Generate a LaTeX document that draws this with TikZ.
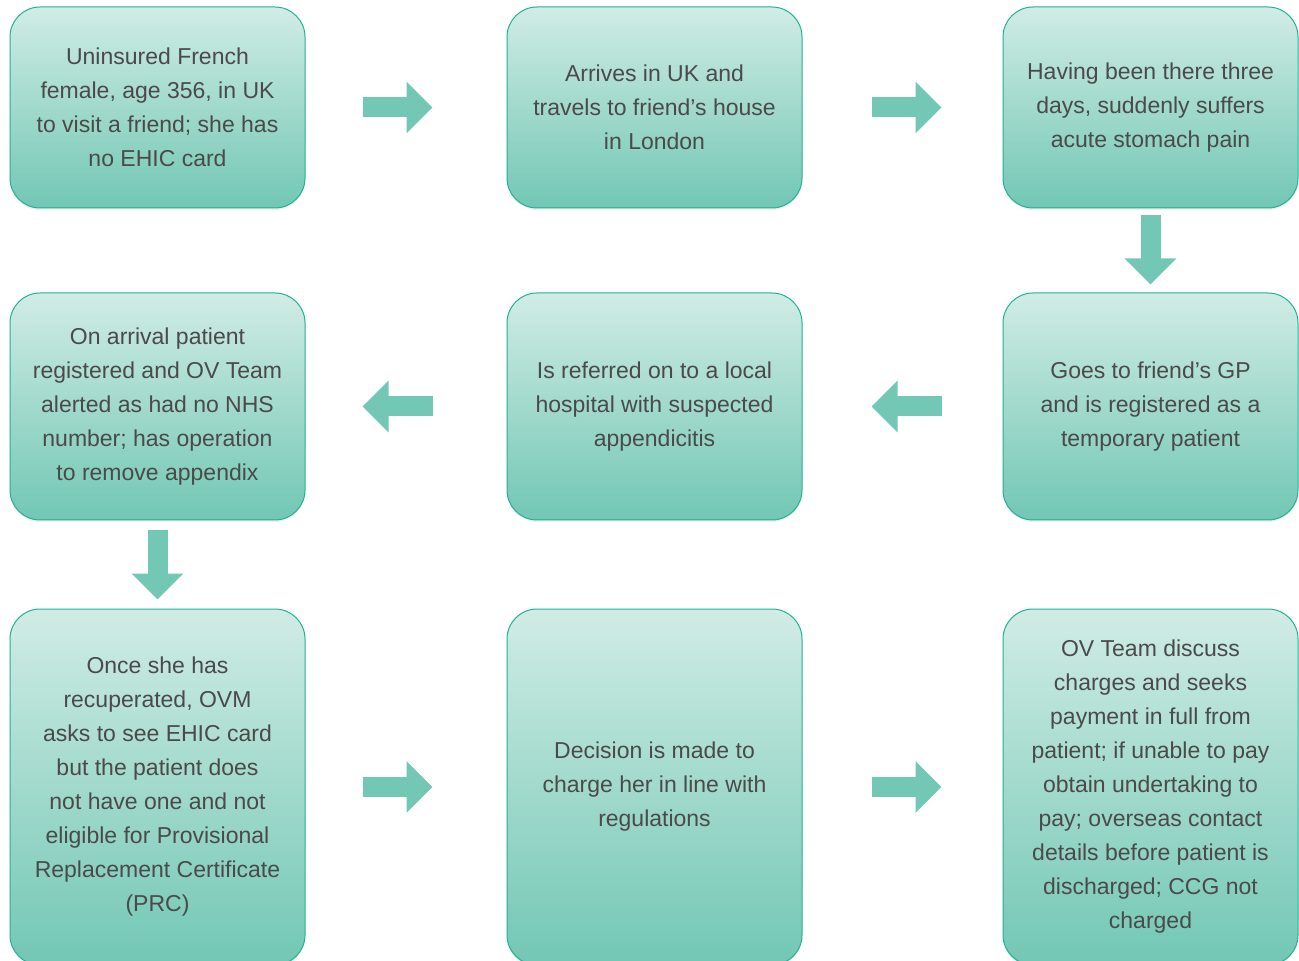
\documentclass[tikz,border=0pt]{standalone}
\usepackage{fontspec}
\setmainfont{Liberation Sans}
\usetikzlibrary{arrows.meta,shadows}
\definecolor{boxtop}{HTML}{D0ECE5}
\definecolor{boxbot}{HTML}{72C7B4}
\definecolor{boxline}{HTML}{1FB394}
\definecolor{flowcol}{HTML}{72C7B5}
\definecolor{txtcol}{HTML}{4A4A4A}
\tikzset{
  ovbox/.style={rectangle, rounded corners=15pt, draw=boxline, line width=0.5pt,
    top color=boxtop, bottom color=boxbot, minimum width=147.5pt, inner sep=0pt,
    align=center, text=txtcol, font=\fontsize{11.5}{17}\selectfont,
    drop shadow={opacity=0.12, shadow xshift=0pt, shadow yshift=-1pt}},
  flow/.style={draw=flowcol, line width=10pt, -{Triangle[width=25pt 0 0, length=13pt 0 0]}},
}
\begin{document}
\begin{tikzpicture}[x=0.5pt, y=-0.5pt]
\useasboundingbox (0,0) rectangle (1299,961);
% first row
\node[ovbox, minimum height=100.5pt] (s1) at (157.5,107.5) {Uninsured French\\female, age 356, in UK\\to visit a friend; she has\\no EHIC card};
\node[ovbox, minimum height=100.5pt] (s2) at (654.5,107.5) {Arrives in UK and\\travels to friend’s house\\in London};
\node[ovbox, minimum height=100.5pt] (s3) at (1150.5,107.5) {Having been there three\\days, suddenly suffers\\acute stomach pain};
% second row
\node[ovbox, minimum height=113.5pt] (s4) at (157.5,406.5) {On arrival patient\\registered and OV Team\\alerted as had no NHS\\number; has operation\\to remove appendix};
\node[ovbox, minimum height=113.5pt] (s5) at (654.5,406.5) {Is referred on to a local\\hospital with suspected\\appendicitis};
\node[ovbox, minimum height=113.5pt] (s6) at (1150.5,406.5) {Goes to friend’s GP\\and is registered as a\\temporary patient};
% third row
\node[ovbox, minimum height=178pt] (s7) at (157.5,787) {Once she has\\recuperated, OVM\\asks to see EHIC card\\but the patient does\\not have one and not\\eligible for Provisional\\Replacement Certificate\\(PRC)};
\node[ovbox, minimum height=178pt] (s8) at (654.5,787) {Decision is made to\\charge her in line with\\regulations};
\node[ovbox, minimum height=178pt] (s9) at (1150.5,787) {OV Team discuss\\charges and seeks\\payment in full from\\patient; if unable to pay\\obtain undertaking to\\pay; overseas contact\\details before patient is\\discharged; CCG not\\charged};
% arrows
\draw[flow, shorten <=28.5pt, shorten >=37pt] (s1.east) -- (s2.west);
\draw[flow, shorten <=34.5pt, shorten >=30.5pt] (s2.east) -- (s3.west);
\draw[flow, shorten <=3.5pt, shorten >=4pt] (s3.south) -- (s6.north);
\draw[flow, shorten <=30.5pt, shorten >=34.5pt] (s6.west) -- (s5.east);
\draw[flow, shorten <=37pt, shorten >=28.5pt] (s5.west) -- (s4.east);
\draw[flow, shorten <=5pt, shorten >=4.5pt] (s4.south) -- (s7.north);
\draw[flow, shorten <=28.5pt, shorten >=37pt] (s7.east) -- (s8.west);
\draw[flow, shorten <=34.5pt, shorten >=30.5pt] (s8.east) -- (s9.west);
\end{tikzpicture}
\end{document}
